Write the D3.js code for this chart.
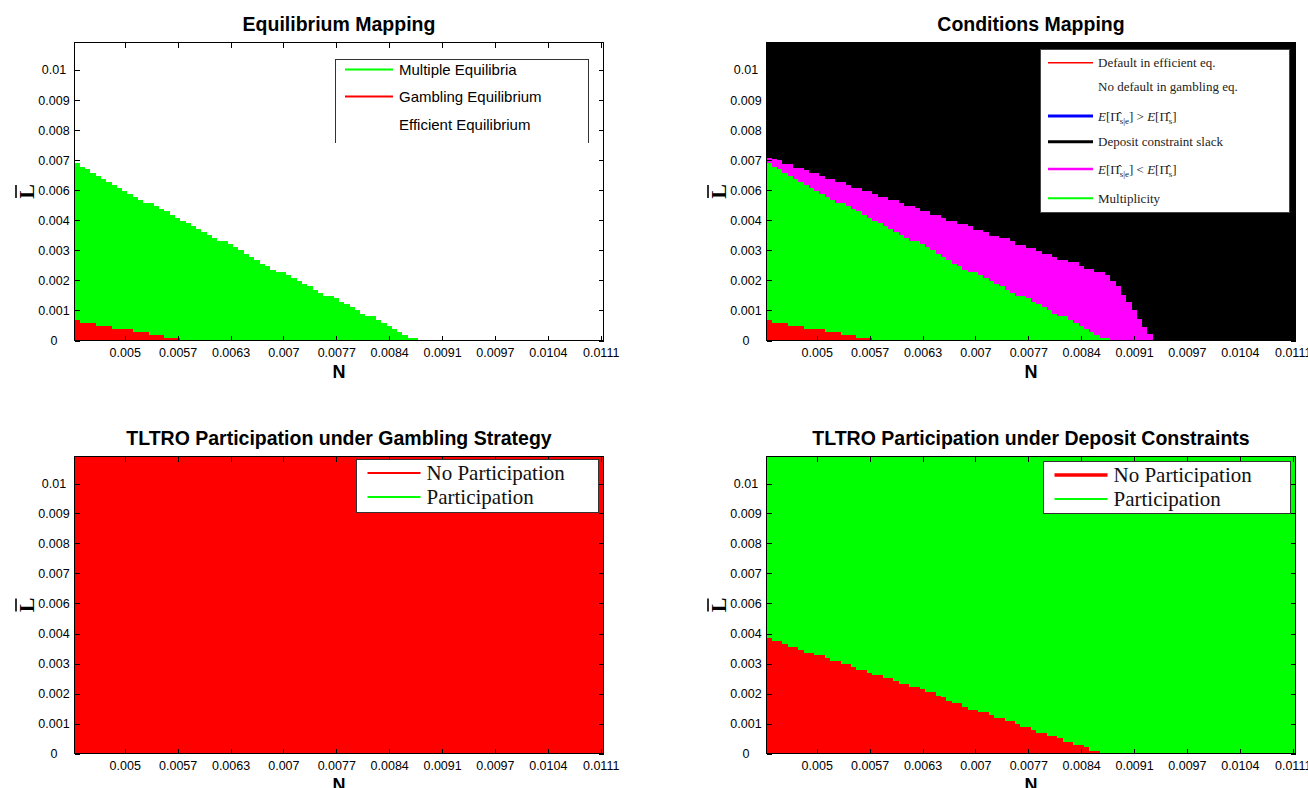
<!DOCTYPE html>
<html>
<head>
<meta charset="utf-8">
<script src="https://cdn.jsdelivr.net/npm/d3@7/dist/d3.min.js"></script>
<style>
  html, body { margin: 0; padding: 0; background: #fff; }
  svg { display: block; }
</style>
</head>
<body>
<svg id="chart" width="1308" height="788"></svg>
<script>
// ---------------- DATA ----------------
// N grid (x categories): 100 columns
const nFirst = 0.00439;
const nStep = 0.0000678;
const nCount = 100;
const lMax = 0.0110;

const nTickValues = [0.005, 0.005678, 0.006356, 0.007033, 0.007711, 0.008389, 0.009067, 0.009744, 0.010422, 0.0111];
const nTickLabels = ["0.005", "0.0057", "0.0063", "0.007", "0.0077", "0.0084", "0.0091", "0.0097", "0.0104", "0.0111"];
const lTickValues = [0, 0.00111, 0.00222, 0.00333, 0.00444, 0.00556, 0.00667, 0.00778, 0.00889, 0.01];
const lTickLabels = ["0", "0.001", "0.002", "0.003", "0.004", "0.006", "0.007", "0.008", "0.009", "0.01"];

// Upper boundary (L-bar, in 1e-3 units) of each region, one value per N column starting at the first column
const multiplicityTop = [6.54, 6.42, 6.32, 6.20, 6.07, 5.95, 5.84, 5.75, 5.63, 5.51, 5.40, 5.28, 5.19, 5.09, 5.09,
  4.98, 4.85, 4.77, 4.65, 4.53, 4.42, 4.32, 4.21, 4.10, 3.99, 3.88, 3.78, 3.67, 3.67, 3.56, 3.44, 3.33, 3.20, 3.09,
  2.96, 2.84, 2.74, 2.62, 2.52, 2.52, 2.42, 2.31, 2.20, 2.09, 2.00, 1.88, 1.75, 1.65, 1.65, 1.56, 1.43, 1.33, 1.23,
  1.11, 0.99, 0.89, 0.89, 0.77, 0.64, 0.54, 0.44, 0.33, 0.22, 0.11, 0.11];
const gamblingTop = [0.77, 0.66, 0.66, 0.66, 0.55, 0.55, 0.55, 0.44, 0.44, 0.44, 0.44, 0.33, 0.33, 0.33, 0.22, 0.22,
  0.22, 0.11, 0.11, 0.11];
const profitLowerTop = [6.75, 6.70, 6.65, 6.51, 6.51, 6.38, 6.38, 6.28, 6.19, 6.19, 6.09, 5.96, 5.96, 5.84, 5.84,
  5.74, 5.62, 5.62, 5.52, 5.52, 5.40, 5.30, 5.30, 5.20, 5.20, 5.07, 4.98, 4.98, 4.88, 4.78, 4.78, 4.65, 4.65,
  4.53, 4.41, 4.41, 4.30, 4.30, 4.21, 4.09, 4.09, 3.99, 3.86, 3.86, 3.77, 3.77, 3.67, 3.54, 3.54, 3.42, 3.42, 3.30,
  3.20, 3.20, 3.07, 2.98, 2.98, 2.88, 2.88, 2.75, 2.65, 2.65, 2.53, 2.53, 2.43, 2.21, 2.00, 1.67, 1.42, 1.11, 0.80,
  0.49, 0.25];
const gamblingParticipationTop = []; // no participation anywhere under the gambling strategy
const depositNoParticipationTop = [4.28, 4.16, 4.16, 4.04, 3.94, 3.94, 3.84, 3.74, 3.74, 3.64, 3.64, 3.52, 3.42,
  3.42, 3.32, 3.32, 3.22, 3.10, 3.10, 3.00, 2.90, 2.90, 2.80, 2.80, 2.68, 2.58, 2.58, 2.48, 2.48, 2.38, 2.26, 2.26,
  2.12, 2.10, 1.96, 1.86, 1.86, 1.74, 1.62, 1.62, 1.53, 1.53, 1.42, 1.31, 1.31, 1.19, 1.19, 1.10, 0.98, 0.98, 0.88,
  0.75, 0.75, 0.65, 0.65, 0.56, 0.43, 0.43, 0.32, 0.32, 0.23, 0.11, 0.11];

const titles = ["Equilibrium Mapping", "Conditions Mapping",
  "TLTRO Participation under Gambling Strategy", "TLTRO Participation under Deposit Constraints"];

// ---------------- LAYOUT ----------------
const svg = d3.select("#chart");
const panels = [
  { left: 74.5, right: 603.5, top: 42.5, bottom: 340.5, bg: "#ffffff" },
  { left: 766.5, right: 1295.5, top: 42.5, bottom: 340.5, bg: "#000000" },
  { left: 74.5, right: 603.5, top: 456.5, bottom: 753.5, bg: "#ff0000" },
  { left: 766.5, right: 1295.5, top: 456.5, bottom: 753.5, bg: "#00ff00" }
];
const RED = "#ff0000", GREEN = "#00ff00", MAGENTA = "#ff00ff";

function regionData(tops) {
  const pts = tops.map((v, i) => ({ n: nFirst - nStep / 2 + i * nStep, L: v / 1000 }));
  if (tops.length) pts.push({ n: nFirst - nStep / 2 + tops.length * nStep, L: tops[tops.length - 1] / 1000 });
  return pts;
}

panels.forEach((p, k) => {
  const g = svg.append("g");
  const x = d3.scaleLinear().domain([nFirst - nStep / 2, nFirst + (nCount - 0.5) * nStep]).range([p.left, p.right]);
  const y = d3.scaleLinear().domain([0, lMax]).range([p.bottom, p.top]);
  p.x = x; p.y = y; p.g = g;

  g.append("rect").attr("x", p.left).attr("y", p.top).attr("width", p.right - p.left)
    .attr("height", p.bottom - p.top).attr("fill", p.bg);

  const area = d3.area().x(d => x(d.n)).y0(y(0)).y1(d => y(d.L)).curve(d3.curveStepAfter);
  const layers = [];
  if (k === 0) { layers.push([multiplicityTop, GREEN], [gamblingTop, RED]); }
  if (k === 1) { layers.push([profitLowerTop, MAGENTA], [multiplicityTop, GREEN], [gamblingTop, RED]); }
  if (k === 2) { layers.push([gamblingParticipationTop, GREEN]); }
  if (k === 3) { layers.push([depositNoParticipationTop, RED]); }
  layers.forEach(([tops, col]) => {
    if (!tops.length) return;
    g.append("path").datum(regionData(tops)).attr("d", area).attr("fill", col)
      .attr("shape-rendering", "crispEdges");
  });

  // axes (ticks inward on all sides)
  const fontAxis = "'Liberation Sans', Arial, sans-serif";
  const ax = g.append("g").attr("transform", `translate(0,${p.bottom})`)
    .call(d3.axisBottom(x).tickValues(nTickValues).tickFormat((d, i) => nTickLabels[i])
      .tickSizeInner(-5).tickSizeOuter(0).tickPadding(12));
  const axT = g.append("g").attr("transform", `translate(0,${p.top})`)
    .call(d3.axisTop(x).tickValues(nTickValues).tickFormat("").tickSizeInner(-5).tickSizeOuter(0));
  const ay = g.append("g").attr("transform", `translate(${p.left},0)`)
    .call(d3.axisLeft(y).tickValues(lTickValues).tickFormat((d, i) => lTickLabels[i])
      .tickSizeInner(-5).tickSizeOuter(0));
  const ayR = g.append("g").attr("transform", `translate(${p.right},0)`)
    .call(d3.axisRight(y).tickValues(lTickValues).tickFormat("").tickSizeInner(-5).tickSizeOuter(0));
  [ax, axT, ay, ayR].forEach(a => {
    a.select(".domain").remove();
    a.selectAll(".tick line").attr("stroke", "#000").attr("shape-rendering", "crispEdges");
    a.attr("font-family", fontAxis).attr("font-size", 12.5);
  });
  ax.selectAll(".tick text").attr("fill", "#000").attr("dy", "0.35em");
  ay.selectAll(".tick text").attr("fill", "#000").attr("text-anchor", "middle").attr("x", -20.5).attr("dy", "0.35em");

  // frame
  g.append("rect").attr("x", p.left).attr("y", p.top).attr("width", p.right - p.left)
    .attr("height", p.bottom - p.top).attr("fill", "none").attr("stroke", "#000")
    .attr("shape-rendering", "crispEdges");

  // title
  const cx = (p.left + p.right) / 2;
  g.append("text").attr("x", cx).attr("y", p.top - 12).attr("text-anchor", "middle")
    .attr("font-family", fontAxis).attr("font-weight", "bold").attr("font-size", 19.5)
    .attr("fill", "#000").text(titles[k]);
  // x label
  g.append("text").attr("x", cx).attr("y", p.bottom + 37).attr("text-anchor", "middle")
    .attr("font-family", fontAxis).attr("font-weight", "bold").attr("font-size", 18)
    .attr("fill", "#000").text("N");
  // y label (L with overline), rotated
  const yl = g.append("g").attr("transform", `translate(${p.left - 40.5},${(p.top + p.bottom) / 2}) rotate(-90)`);
  yl.append("text").attr("x", 0).attr("y", 0).attr("text-anchor", "middle")
    .attr("font-family", "'Liberation Serif', 'DejaVu Serif', serif").attr("font-weight", "bold")
    .attr("font-size", 22).attr("fill", "#000").text("L");
  yl.append("line").attr("x1", -6.5).attr("x2", 6.5).attr("y1", -18).attr("y2", -18)
    .attr("stroke", "#000").attr("stroke-width", 1.6);
});

// ---------------- LEGENDS ----------------
const sans = "'Liberation Sans', Arial, sans-serif";
const serif = "'Liberation Serif', 'DejaVu Serif', 'Times New Roman', serif";

// Panel 1 legend (open at the bottom)
(function () {
  const L = 335.5, R = 588.5, T = 59.5, B = 143;
  const g = svg.append("g");
  g.append("path").attr("d", `M${L},${B}V${T}H${R}V${B}`).attr("fill", "none").attr("stroke", "#333")
    .attr("shape-rendering", "crispEdges");
  const items = [["Multiple Equilibria", GREEN, 69.5], ["Gambling Equilibrium", RED, 96.5], ["Efficient Equilibrium", null, 125]];
  items.forEach(([t, c, yy]) => {
    if (c) g.append("line").attr("x1", 345).attr("x2", 393).attr("y1", yy).attr("y2", yy).attr("stroke", c).attr("stroke-width", 2);
    g.append("text").attr("x", 399).attr("y", yy).attr("dy", "0.35em").attr("font-family", sans)
      .attr("font-size", 15).attr("fill", "#000").text(t);
  });
})();

// Panel 2 legend
(function () {
  const g = svg.append("g");
  g.append("rect").attr("x", 1040.5).attr("y", 49.5).attr("width", 249).attr("height", 163)
    .attr("fill", "#fff").attr("stroke", "#444").attr("shape-rendering", "crispEdges");
  const lx1 = 1048, lx2 = 1093, tx = 1098;
  const rows = [
    { y: 62.7, c: RED, w: 1.5 },
    { y: 86.7, c: null },
    { y: 116, c: "#0000ff", w: 3 },
    { y: 141.7, c: "#000000", w: 3 },
    { y: 169, c: MAGENTA, w: 2.5 },
    { y: 198.3, c: GREEN, w: 2 }
  ];
  rows.forEach(r => {
    if (r.c) g.append("line").attr("x1", lx1).attr("x2", lx2).attr("y1", r.y).attr("y2", r.y)
      .attr("stroke", r.c).attr("stroke-width", r.w);
  });
  const txt = (yy) => g.append("text").attr("x", tx).attr("y", yy).attr("dy", "0.35em")
    .attr("font-family", serif).attr("font-size", 13).attr("fill", "#222");
  txt(62.7).text("Default in efficient eq.");
  txt(86.7).text("No default in gambling eq.");
  txt(141.7).text("Deposit constraint slack");
  txt(198.3).text("Multiplicity");
  function mathLabel(yy, rel) {
    const t = txt(yy);
    t.append("tspan").attr("font-style", "italic").text("E");
    t.append("tspan").text("[\u03A0\u0302");
    t.append("tspan").attr("font-size", 9).attr("dy", 3).text("s|e");
    t.append("tspan").attr("dy", -3).text("] " + rel + " ");
    t.append("tspan").attr("font-style", "italic").text("E");
    t.append("tspan").text("[\u03A0\u0302");
    t.append("tspan").attr("font-size", 9).attr("dy", 3).text("s");
    t.append("tspan").attr("dy", -3).text("]");
  }
  mathLabel(116, ">");
  mathLabel(169, "<");
})();

// Panels 3 & 4 legends
function partLegend(L, T, W, H, redW) {
  const g = svg.append("g");
  g.append("rect").attr("x", L).attr("y", T).attr("width", W).attr("height", H)
    .attr("fill", "#fff").attr("stroke", "#333").attr("shape-rendering", "crispEdges");
  const items = [["No Participation", RED, T + 13.5, redW], ["Participation", GREEN, T + 37.5, 2]];
  items.forEach(([t, c, yy, w]) => {
    g.append("line").attr("x1", L + 11).attr("x2", L + 64).attr("y1", yy).attr("y2", yy)
      .attr("stroke", c).attr("stroke-width", w);
    g.append("text").attr("x", L + 70).attr("y", yy).attr("dy", "0.35em").attr("font-family", serif)
      .attr("font-size", 21).attr("fill", "#111").text(t);
  });
}
partLegend(356.5, 459.5, 242, 53, 2);
partLegend(1043.5, 461.5, 247, 52, 3.5);
</script>
</body>
</html>
